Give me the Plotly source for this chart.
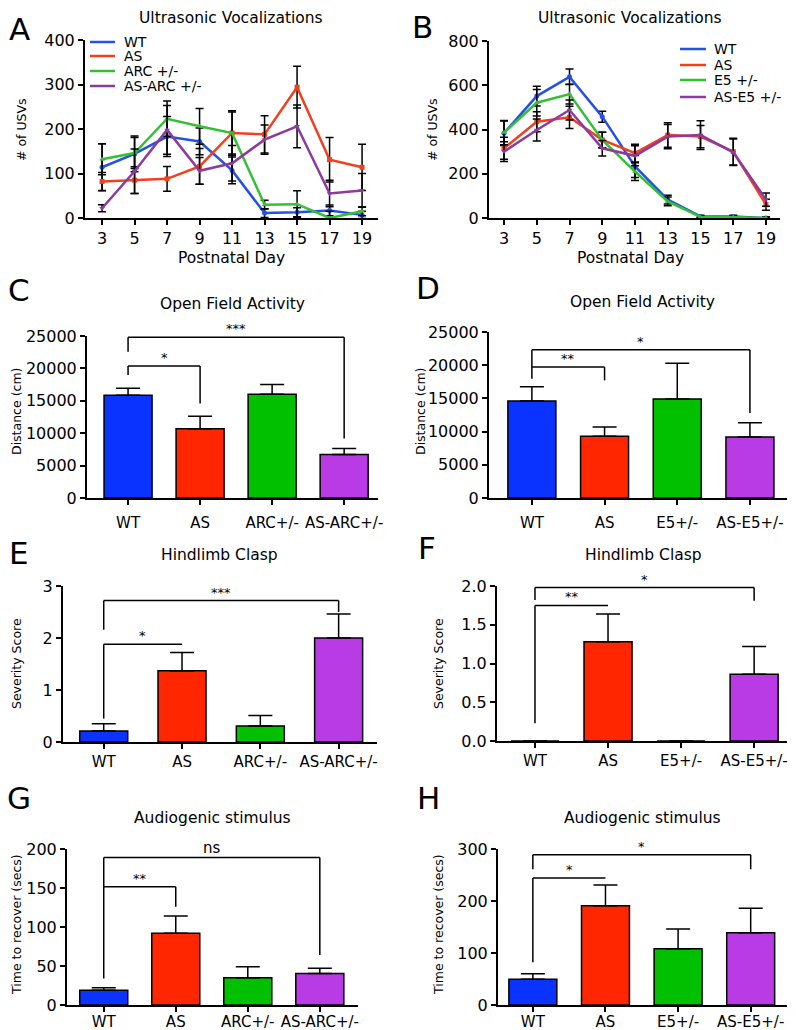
import plotly.graph_objects as go

PAGE_W, PAGE_H = 796, 1030
OFF = 8  # default page margin of the html body
W, H = PAGE_W - OFF, PAGE_H - OFF
FONT = "DejaVu Sans"

# ---------------- data ----------------
days = [3, 5, 7, 9, 11, 13, 15, 17, 19]

usv_a_names = ["WT", "AS", "ARC +/-", "AS-ARC +/-"]
usv_a_wt = [114, 144, 183, 172, 107, 11, 13, 17, 7]
usv_a_as = [82, 85, 88, 116, 191, 188, 294, 131, 114]
usv_a_arc = [132, 146, 223, 206, 191, 30, 31, 0, 15]
usv_a_asarc = [22, 105, 198, 106, 123, 176, 206, 55, 62]
usv_a_wt_err = [53, 40, 45, 30, 30, 10, 10, 12, 8]
usv_a_as_err = [20, 30, 28, 40, 50, 42, 47, 50, 52]
usv_a_arc_err = [35, 35, 40, 40, 47, 10, 30, 15, 10]
usv_a_asarc_err = [8, 50, 55, 30, 40, 33, 48, 30, 38]

usv_b_names = ["WT", "AS", "E5 +/-", "AS-E5 +/-"]
usv_b_wt = [383, 551, 638, 458, 233, 83, 7, 7, 0]
usv_b_as = [315, 435, 455, 353, 293, 375, 368, 300, 60]
usv_b_e5 = [386, 521, 560, 353, 210, 75, 5, 5, 0]
usv_b_ase5 = [300, 398, 488, 315, 281, 368, 375, 297, 83]
usv_b_wt_err = [55, 45, 35, 25, 50, 20, 5, 5, 5]
usv_b_as_err = [50, 45, 50, 35, 40, 55, 50, 60, 25]
usv_b_e5_err = [55, 60, 45, 35, 40, 20, 5, 5, 5]
usv_b_ase5_err = [45, 50, 45, 35, 45, 55, 65, 60, 30]

cats_arc = ["WT", "AS", "ARC+/-", "AS-ARC+/-"]
cats_e5 = ["WT", "AS", "E5+/-", "AS-E5+/-"]

of_c = [15850, 10700, 16000, 6700]
of_c_err = [1100, 1900, 1500, 930]
of_d = [14600, 9300, 14900, 9200]
of_d_err = [2150, 1400, 5400, 2150]

hc_e = [0.21, 1.37, 0.31, 2.0]
hc_e_err = [0.14, 0.35, 0.2, 0.46]
hc_f = [0, 1.28, 0, 0.86]
hc_f_err = [None, 0.36, None, 0.36]

au_g = [19, 92, 35, 40.5]
au_g_err = [3, 22, 14, 6.5]
au_h = [49.5, 191, 108, 139]
au_h_err = [10.5, 40, 38, 47]

# significance brackets: (x_from, x_to, y, left leg bottom, right leg bottom, label)
sig_c = [(0, 1, 20360, 18970, 14590, "*"), (0, 3, 24790, 22580, 9175, "***")]
sig_d = [(0, 1, 19730, 17970, 17720, "**"), (0, 3, 22340, 19730, 12800, "*")]
sig_e = [(0, 1, 1.88, 0.45, 1.88, "*"), (0, 3, 2.72, 2.16, 2.5, "***")]
sig_f = [(0, 1, 1.75, 0.23, 1.75, "**"), (0, 3, 1.98, 1.82, 1.81, "*")]
sig_g = [(0, 1, 151.7, 34, 126, "**"), (0, 3, 189, 151.7, 64, "ns")]
sig_h = [(0, 1, 244, 82, 244, "*"), (0, 3, 289, 261, 261, "*")]

# ---------------- styling ----------------
line_cols = ["#2450e8", "#f2401e", "#33c033", "#8b3a9e"]
bar_cols = ["#0a33ff", "#ff2600", "#00c000", "#b93be6"]
symbols = ["circle", "square", "triangle-up", "triangle-down"]
TICK_SIZE = 16
CAT_SIZE = 15


def px(x):
    return (x - OFF) / W


def py(y):
    return 1 - (y - OFF) / H


fig = go.Figure()
annotations = []
shapes = []


def axis_common(size=TICK_SIZE):
    return dict(showline=True, linecolor="black", linewidth=2, ticks="outside",
                ticklen=5, tickwidth=2, tickcolor="black", showgrid=False,
                zeroline=False, automargin=False, tickangle=0,
                tickfont=dict(family=FONT, size=size, color="black"))


def add_axes(n, xl, xr, yt, yb, xrange, yrange, ydtick, xtickvals, xticktext=None,
             ytickformat="d", xstandoff=0):
    xs = "xaxis" if n == 1 else f"xaxis{n}"
    ys = "yaxis" if n == 1 else f"yaxis{n}"
    yname = "y" if n == 1 else f"y{n}"
    xname = "x" if n == 1 else f"x{n}"
    xa = axis_common(TICK_SIZE if xticktext is None else CAT_SIZE)
    xa.update(domain=[px(xl), px(xr)], range=xrange, anchor=yname,
              tickmode="array", tickvals=xtickvals, ticklabelstandoff=xstandoff)
    if xticktext is not None:
        xa.update(ticktext=xticktext)
    ya = axis_common()
    ya.update(domain=[py(yb), py(yt)], range=yrange, anchor=xname, dtick=ydtick,
              tick0=0, tickformat=ytickformat)
    fig.update_layout(**{xs: xa, ys: ya})


def text(x, y, s, size, angle=0, xanchor="center"):
    annotations.append(dict(x=px(x), y=py(y), xref="paper", yref="paper", text=s,
                            showarrow=False, textangle=angle, xanchor=xanchor,
                            yanchor="middle",
                            font=dict(family=FONT, size=size, color="black")))


# ---------- line panels ----------
def line_panel(n, names, series, errs, legend_pos):
    xname = "x" if n == 1 else f"x{n}"
    yname = "y" if n == 1 else f"y{n}"
    for i, (vals, err) in enumerate(zip(series, errs)):
        fig.add_trace(go.Scatter(
            x=days, y=vals, mode="lines+markers", name=names[i], showlegend=False,
            xaxis=xname, yaxis=yname, cliponaxis=False,
            line=dict(color=line_cols[i], width=2.5),
            marker=dict(symbol=symbols[i], size=5, color=line_cols[i]),
            error_y=dict(type="data", array=err, color="black", thickness=1.5, width=4)))
    lx0, lx1, tx, ys = legend_pos
    for i, nm in enumerate(names):
        shapes.append(dict(type="line", xref="paper", yref="paper", x0=px(lx0), x1=px(lx1),
                           y0=py(ys[i]), y1=py(ys[i]),
                           line=dict(color=line_cols[i], width=2.5)))
        text(tx, ys[i], nm, 14, xanchor="left")


add_axes(1, 85, 378, 40, 218, [1.95, 19.98], [0, 400], 100, days)
line_panel(1, usv_a_names, [usv_a_wt, usv_a_as, usv_a_arc, usv_a_asarc],
           [usv_a_wt_err, usv_a_as_err, usv_a_arc_err, usv_a_asarc_err],
           (90, 115, 122, [42, 56, 71, 86]))

add_axes(2, 489, 780, 41, 218, [2.084, 19.855], [0, 800], 200, days)
line_panel(2, usv_b_names, [usv_b_wt, usv_b_as, usv_b_e5, usv_b_ase5],
           [usv_b_wt_err, usv_b_as_err, usv_b_e5_err, usv_b_ase5_err],
           (680, 706, 712, [49, 65, 80, 97]))


# ---------- bar panels ----------
def bar_panel(n, cats, vals, errs, sig, pxunit):
    xname = f"x{n}"
    yname = f"y{n}"
    errs_plus = [e if e is not None else float("nan") for e in errs]
    errs_minus = [0 if e is not None else float("nan") for e in errs]
    fig.add_trace(go.Bar(
        x=list(range(len(cats))), y=vals, xaxis=xname, yaxis=yname, showlegend=False,
        width=48 / pxunit,
        marker=dict(color=bar_cols, line=dict(color="black", width=1.5)),
        error_y=dict(type="data", symmetric=False, array=errs_plus,
                     arrayminus=errs_minus, color="black", thickness=1.5, width=12)))
    for (x0, x1, yv, l0, l1, lab) in sig:
        for seg in [(x0, yv, x1, yv), (x0, yv, x0, l0), (x1, yv, x1, l1)]:
            shapes.append(dict(type="line", xref=xname, yref=yname, x0=seg[0], y0=seg[1],
                               x1=seg[2], y1=seg[3], line=dict(color="black", width=1.5)))
        annotations.append(dict(x=(x0 + x1) / 2, y=yv, xref=xname, yref=yname, text=lab,
                                showarrow=False, yanchor="bottom", yshift=-1,
                                font=dict(family=FONT, size=15 if lab == "ns" else 13,
                                          color="#000000")))


add_axes(3, 87, 378, 336, 498, [-0.57, 3.47], [0, 25000], 5000, [0, 1, 2, 3], cats_arc,
         xstandoff=5)
bar_panel(3, cats_arc, of_c, of_c_err, sig_c, 72)
add_axes(4, 489, 787, 332, 498, [-0.59, 3.51], [0, 25000], 5000, [0, 1, 2, 3], cats_e5,
         xstandoff=5)
bar_panel(4, cats_e5, of_d, of_d_err, sig_d, 72.7)
add_axes(5, 63, 377, 586, 742, [-0.52, 3.49], [0, 3], 1, [0, 1, 2, 3], cats_arc)
bar_panel(5, cats_arc, hc_e, hc_e_err, sig_e, 78.3)
add_axes(6, 497, 787, 586, 741, [-0.52, 3.45], [0, 2], 0.5, [0, 1, 2, 3], cats_e5, ".1f")
bar_panel(6, cats_e5, hc_f, hc_f_err, sig_f, 73)
add_axes(7, 67, 358, 849, 1005, [-0.51, 3.53], [0, 200], 50, [0, 1, 2, 3], cats_arc,
         xstandoff=-3)
bar_panel(7, cats_arc, au_g, au_g_err, sig_g, 72)
add_axes(8, 498, 787, 849, 1005, [-0.48, 3.5], [0, 300], 100, [0, 1, 2, 3], cats_e5,
         xstandoff=-3)
bar_panel(8, cats_e5, au_h, au_h_err, sig_h, 72.7)

# ---------- texts ----------
for lab, x, y in [("A", 19, 29), ("B", 422, 27), ("C", 19, 290), ("D", 428, 288),
                  ("E", 19, 553), ("F", 427, 548), ("G", 19, 798), ("H", 428, 798)]:
    text(x, y, lab, 31)

for t, x, y in [("Ultrasonic Vocalizations", 231, 18), ("Ultrasonic Vocalizations", 630, 18),
                ("Open Field Activity", 232, 304), ("Open Field Activity", 642, 302),
                ("Hindlimb Clasp", 220, 555), ("Hindlimb Clasp", 643, 555),
                ("Audiogenic stimulus", 212, 818), ("Audiogenic stimulus", 642, 818)]:
    text(x, y, t, 15.5)

text(231, 258, "Postnatal Day", 15.5)
text(630, 258, "Postnatal Day", 15.5)

for t, x, y in [("# of USVs", 22, 130), ("# of USVs", 433, 130),
                ("Distance (cm)", 16, 412), ("Distance (cm)", 420, 412),
                ("Severity Score", 16, 664), ("Severity Score", 438, 664),
                ("Time to recover (secs)", 16, 925), ("Time to recover (secs)", 438, 925)]:
    text(x, y, t, 12.5, angle=-90)

fig.update_layout(width=W, height=H, margin=dict(l=0, r=0, t=0, b=0),
                  paper_bgcolor="white", plot_bgcolor="white",
                  annotations=annotations, shapes=shapes, bargap=0.3)

fig.write_html("out.html")
